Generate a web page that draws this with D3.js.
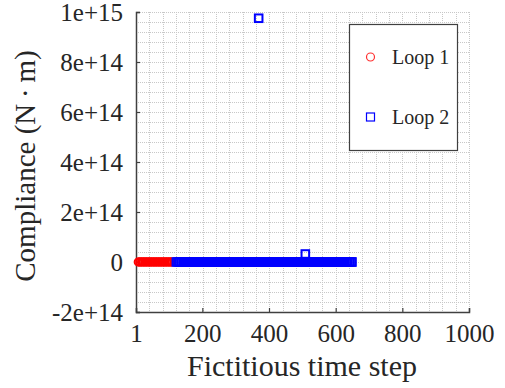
<!DOCTYPE html>
<html>
<head>
<meta charset="utf-8">
<script src="https://cdn.jsdelivr.net/npm/d3@7"></script>
<style>
  body { margin: 0; background: #fff; }
  text { font-family: "Liberation Serif", "Times New Roman", serif; fill: #262626; }
</style>
</head>
<body>
<svg id="chart" width="505" height="388"></svg>
<script>
var loop1Steps = [8, 13, 18, 23, 28, 33, 38, 43, 48, 53, 58, 63, 68, 73, 78, 83, 88,
    93, 98, 103, 108];
var loop1Values = [0, 0, 0, 0, 0, 0, 0, 0, 0, 0, 0, 0, 0, 0, 0, 0, 0,
    0, 0, 0, 0];

var loop2Steps = [122, 127, 132, 137, 142, 147, 152, 157, 162, 167, 172, 177, 182, 187,
    192, 197, 202, 207, 212, 217, 222, 227, 232, 237, 242, 247, 252, 257, 262, 267,
    272, 277, 282, 287, 292, 297, 302, 307, 312, 317, 322, 327, 332, 337, 342, 347,
    352, 357, 362, 367, 369, 372, 377, 382, 387, 392, 397, 402, 407, 412, 417, 422,
    427, 432, 437, 442, 447, 452, 457, 462, 467, 472, 477, 482, 487, 492, 497, 502,
    507, 509, 512, 517, 522, 527, 532, 537, 542, 547, 552, 557, 562, 567, 572, 577,
    582, 587, 592, 597, 602, 607, 612, 617, 622, 627, 632, 637, 642, 647, 649];
var loop2Values = [0, 0, 0, 0, 0, 0, 0, 0, 0, 0, 0, 0, 0, 0,
    0, 0, 0, 0, 0, 0, 0, 0, 0, 0, 0, 0, 0, 0, 0, 0,
    0, 0, 0, 0, 0, 0, 0, 0, 0, 0, 0, 0, 0, 0, 0, 0,
    0, 0, 0, 0, 9.75e14, 0, 0, 0, 0, 0, 0, 0, 0, 0, 0, 0,
    0, 0, 0, 0, 0, 0, 0, 0, 0, 0, 0, 0, 0, 0, 0, 0,
    0, 3.2e13, 0, 0, 0, 0, 0, 0, 0, 0, 0, 0, 0, 0, 0, 0,
    0, 0, 0, 0, 0, 0, 0, 0, 0, 0, 0, 0, 0, 0, 0];

var xTicks = [1, 200, 400, 600, 800, 1000];
var yTicks = [-2e14, 0, 2e14, 4e14, 6e14, 8e14, 1e15];
var yTickLabels = ["-2e+14", "0", "2e+14", "4e+14", "6e+14", "8e+14", "1e+15"];
var seriesNames = ["Loop 1", "Loop 2"];

var svg = d3.select("#chart");
var pLeft = 136, pRight = 469, pTop = 12, pBottom = 312;

var x = d3.scaleLinear().domain([1, 1000]).range([pLeft, pRight]);
var y = d3.scaleLinear().domain([-2e14, 1e15]).range([pBottom, pTop]);

// minor grid
var gx = d3.range(0, 26).map(function(i) { return 1 + i * 999 / 25; });
var gy = d3.range(0, 31).map(function(i) { return -2e14 + i * 4e13; });
var grid = svg.append("g").attr("stroke", "#c8c8c8").attr("stroke-width", 1)
    .attr("stroke-dasharray", "1,1");
grid.selectAll(".gx").data(gx).enter().append("line")
    .attr("x1", function(d) { return Math.round(x(d)) + 0.5; })
    .attr("x2", function(d) { return Math.round(x(d)) + 0.5; })
    .attr("y1", pTop).attr("y2", pBottom);
grid.selectAll(".gy").data(gy).enter().append("line")
    .attr("y1", function(d) { return Math.round(y(d)) + 0.5; })
    .attr("y2", function(d) { return Math.round(y(d)) + 0.5; })
    .attr("x1", pLeft).attr("x2", pRight);

// axes
var xAxis = d3.axisBottom(x).tickValues(xTicks).tickSize(-4).tickPadding(12)
    .tickFormat(d3.format("d"));
var yAxis = d3.axisLeft(y).tickValues(yTicks).tickSize(-4).tickPadding(13)
    .tickFormat(function(d, i) { return yTickLabels[i]; });

var gxa = svg.append("g").attr("transform", "translate(0," + pBottom + ")").call(xAxis);
var gya = svg.append("g").attr("transform", "translate(" + pLeft + ",0)").call(yAxis);
[gxa, gya].forEach(function(g) {
  g.select(".domain").attr("stroke", "#404040").attr("stroke-width", 1.5);
  g.selectAll(".tick line").attr("stroke", "#404040").attr("stroke-width", 1.2);
  g.selectAll(".tick text").style("font-size", "25px")
    .style("font-family", "Liberation Serif").attr("fill", "#262626");
});
gxa.selectAll(".tick text").attr("dy", "0.71em");
gya.selectAll(".tick text").attr("dy", "0.35em");

// series
var pts1 = loop1Steps.map(function(s, i) { return [s, loop1Values[i]]; });
var pts2 = loop2Steps.map(function(s, i) { return [s, loop2Values[i]]; });

svg.append("g").selectAll("circle").data(pts1).enter().append("circle")
    .attr("cx", function(d) { return x(d[0]); })
    .attr("cy", function(d) { return y(d[1]); })
    .attr("r", 3.7).attr("fill", "none").attr("stroke", "#ff0000").attr("stroke-width", 2);

svg.append("g").selectAll("rect").data(pts2).enter().append("rect")
    .attr("x", function(d) { return x(d[0]) - 3.8; })
    .attr("y", function(d) { return y(d[1]) - 3.8; })
    .attr("width", 7.6).attr("height", 7.6)
    .attr("fill", "none").attr("stroke", "#0000ff").attr("stroke-width", 2);

// legend
var lg = svg.append("g");
lg.append("rect").attr("x", 349.5).attr("y", 24.5).attr("width", 108).attr("height", 126)
    .attr("fill", "#fff").attr("stroke", "#404040").attr("stroke-width", 1.2);
lg.append("circle").attr("cx", 370.5).attr("cy", 57).attr("r", 4)
    .attr("fill", "none").attr("stroke", "#ff3030").attr("stroke-width", 1.2);
lg.append("rect").attr("x", 366.5).attr("y", 113).attr("width", 8).attr("height", 8)
    .attr("fill", "none").attr("stroke", "#0000ff").attr("stroke-width", 1.2);
lg.selectAll("text").data(seriesNames).enter().append("text")
    .attr("x", 392).attr("y", function(d, i) { return 57 + i * 60; })
    .attr("dy", "0.35em").style("font-size", "20px").text(function(d) { return d; });

// axis labels
svg.append("text").attr("x", 302).attr("y", 376).attr("text-anchor", "middle")
    .style("font-size", "30px").text("Fictitious time step");
svg.append("text").attr("transform", "translate(35,166) rotate(-90)")
    .attr("text-anchor", "middle").style("font-size", "29px")
    .text("Compliance (N\u2009\u00b7\u2009m)");
</script>
</body>
</html>
